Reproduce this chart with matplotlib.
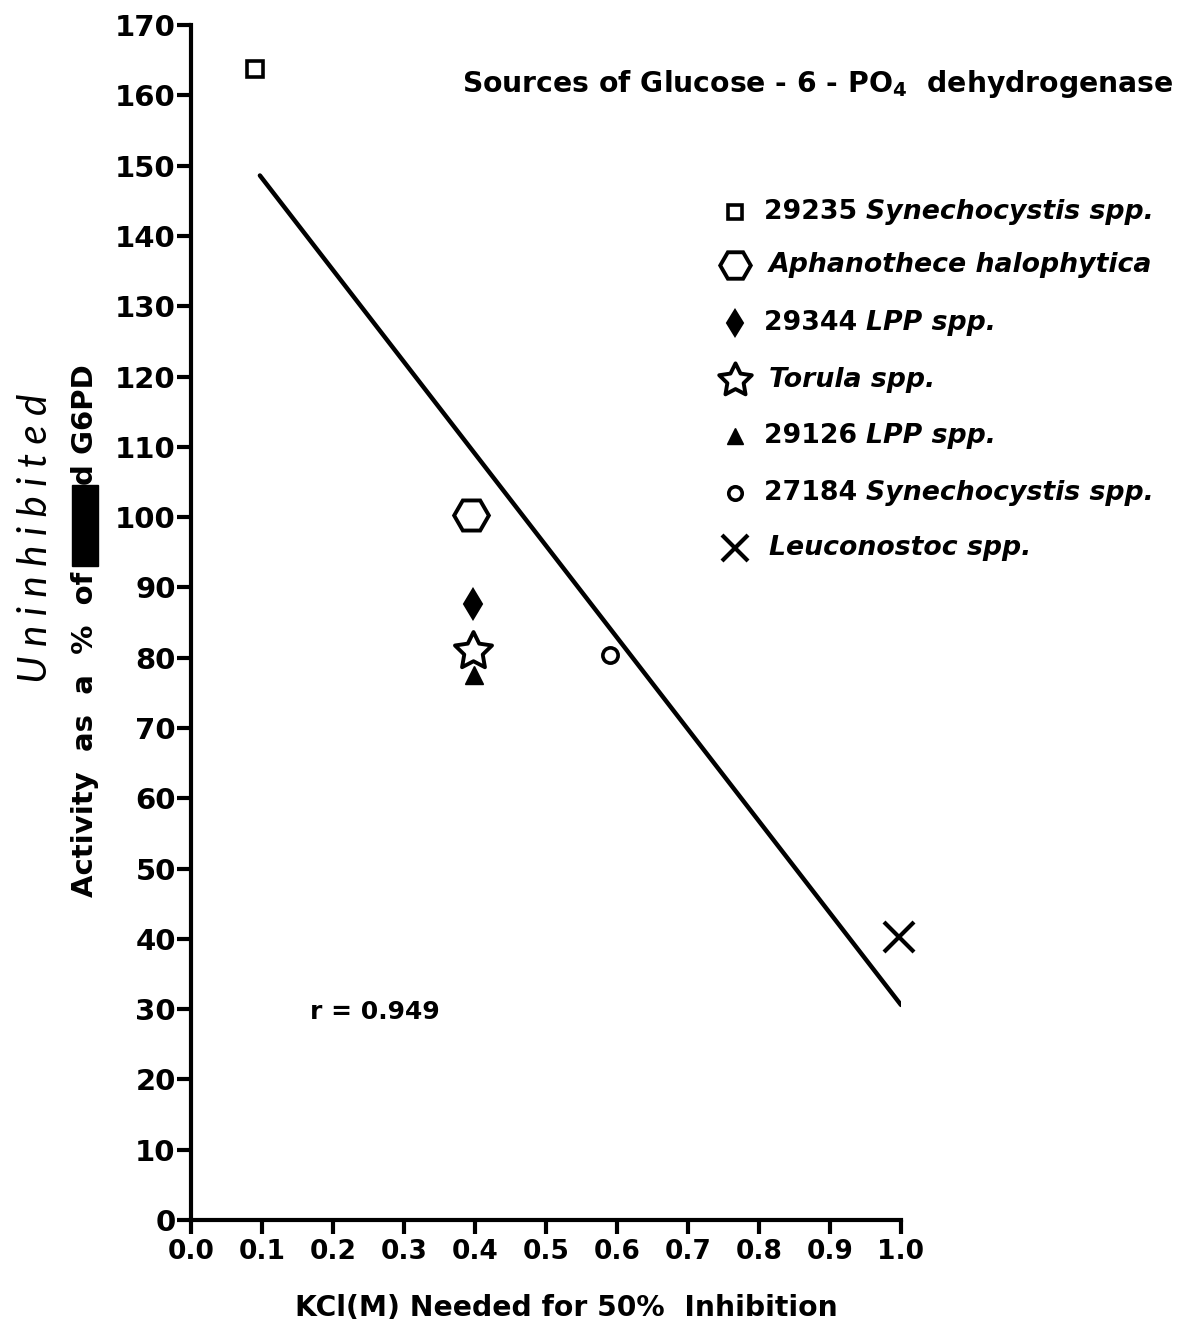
import numpy as np
import matplotlib
matplotlib.use("Agg")
import matplotlib.pyplot as plt
import matplotlib.path as mpath

plt.rcParams["font.family"] = ["DejaVu Sans"]
plt.rcParams["mathtext.fontset"] = "dejavusans"

# data
kcl = [0.09, 0.395, 0.397, 0.397, 0.398, 0.59, 0.997]
activity = [163.7, 100.3, 87.6, 80.9, 77.5, 80.4, 40.3]
legend_num = ["29235", "", "29344", "", "29126", "27184", ""]
legend_name = ["Synechocystis spp.", "Aphanothece halophytica", "LPP spp.",
               "Torula spp.", "LPP spp.", "Synechocystis spp.", "Leuconostoc spp."]

# regression line end points
fit_x = [0.097, 1.0]
fit_y = [148.6, 30.6]

x_ticks = np.round(np.arange(0, 1.01, 0.1), 1)
y_ticks = np.arange(0, 171, 10)

fat_star = mpath.Path.unit_regular_star(5, 0.5)
styles = [
    dict(marker="s", ms=11, mfc="white", mew=2.6),
    dict(marker="H", ms=25, mfc="white", mew=2.8),
    dict(marker="d", ms=15, mfc="black", mew=1.5),
    dict(marker=fat_star, ms=28, mfc="white", mew=2.8),
    dict(marker="^", ms=13, mfc="black", mew=1),
    dict(marker="o", ms=11, mfc="white", mew=2.6),
    dict(marker="x", ms=21, mfc="none", mew=3.0),
]

fig = plt.figure(figsize=(11.77, 13.26), dpi=100)
ax = fig.add_axes([0.1623, 0.0799, 0.6032, 0.9012])

ax.plot(fit_x, fit_y, color="black", lw=3.2, solid_capstyle="round")
for x, y, st in zip(kcl, activity, styles):
    ax.plot([x], [y], linestyle="none", color="black", mec="black",
            clip_on=False, zorder=3, **st)

ax.set_xlim(0, 1.0)
ax.set_ylim(0, 170)
ax.set_xticks(x_ticks)
ax.set_xticklabels([f"{v:.1f}" for v in x_ticks])
ax.set_yticks(y_ticks)
for s in ["top", "right"]:
    ax.spines[s].set_visible(False)
for s in ["left", "bottom"]:
    ax.spines[s].set_linewidth(3)
ax.tick_params(axis="y", direction="out", length=10, width=3, pad=1,
               labelsize=21)
ax.tick_params(axis="x", direction="out", length=10, width=3, pad=4,
               labelsize=19)
for lab in ax.get_xticklabels() + ax.get_yticklabels():
    lab.set_fontweight("bold")

fig.text(566 / 1177, 1 - 1308 / 1326, "KCl(M) Needed for 50%  Inhibition",
         fontsize=20.3, fontweight="bold", ha="center", va="center")

# legend, hand built: marker, upright number, italic name
leg_y = [212, 265, 323, 380, 436, 493, 548]
for i, py in enumerate(leg_y):
    yy = (1220 - py) / 1195
    ax.plot([(735 - 191) / 710], [yy], transform=ax.transAxes,
            linestyle="none", color="black", mec="black", clip_on=False,
            **{**styles[i], "ms": styles[i]["ms"] * 0.88})
    tx = (764 - 191) / 710
    if legend_num[i]:
        t = ax.text(tx, yy, legend_num[i] + " ", transform=ax.transAxes,
                    fontsize=19.3, fontweight="bold", va="center", ha="left")
        ax.annotate(legend_name[i], xy=(1, 0), xycoords=t, va="bottom",
                    ha="left", fontsize=19.3, fontweight="bold",
                    style="italic")
    else:
        ax.text(tx + 0.007, yy, legend_name[i], transform=ax.transAxes,
                fontsize=19.3, fontweight="bold", style="italic",
                va="center", ha="left")

fig.text(462 / 1177, 1 - 84 / 1326,
         r"Sources of Glucose - 6 - PO$_\mathbf{4}$  dehydrogenase",
         fontsize=20.3, fontweight="bold", ha="left", va="center")

ax.text(0.168, (1220 - 1012) / 1195, "r = 0.949", transform=ax.transAxes,
        fontsize=18, fontweight="bold", ha="left", va="center")

# y label with the struck out word
t1 = fig.text(0.072, 1 - 897 / 1326, "Activity  as  a  %  of ", rotation=90,
              ha="center", va="bottom", fontsize=21, fontweight="bold")
t2 = ax.annotate("Inhibite", xy=(0.5, 1), xycoords=t1, rotation=90,
                 ha="center", va="bottom", fontsize=12, fontweight="bold",
                 bbox=dict(boxstyle="square,pad=0.25", fc="black", ec="black"))
ax.annotate("d G6PD", xy=(0.5, 1), xycoords=t2, xytext=(0, 3),
            textcoords="offset points", rotation=90, ha="center",
            va="bottom", fontsize=21, fontweight="bold")

fig.text(0.030, 1 - 538 / 1326, "U n i n h i b i t e d", rotation=90,
         ha="center", va="center", fontsize=29, family=["Lato", "DejaVu Sans"],
         style="italic", fontweight="normal", color="black")

fig.savefig("out.png", dpi=100)
